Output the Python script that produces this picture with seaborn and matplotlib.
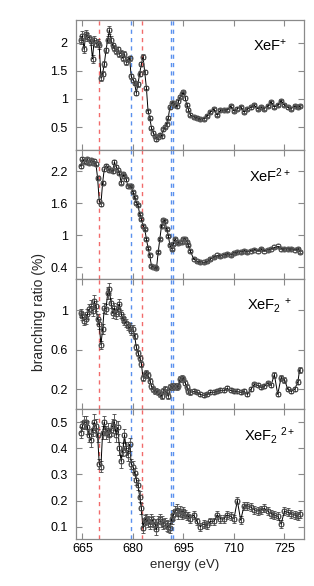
import matplotlib
matplotlib.use('Agg')
import matplotlib.pyplot as plt
import seaborn as sns
import pandas as pd
from matplotlib.ticker import FuncFormatter

# ---------------- data ----------------
energy = [664.5, 665.0, 665.5, 666.0, 666.5, 667.0, 667.5, 668.0, 668.5, 669.0,
          669.5, 670.0, 670.5, 671.0, 671.5, 672.0, 672.5, 673.0, 673.5, 674.0,
          674.5, 675.0, 675.5, 676.0, 676.5, 677.0, 677.5, 678.0, 678.5, 679.0,
          679.5, 680.0, 680.5, 681.0, 681.5, 682.0, 682.5, 683.0, 683.5, 684.0,
          684.5, 685.0, 685.5, 686.0, 686.5, 687.0, 687.5, 688.0, 688.5, 689.0,
          689.5, 690.0, 690.5, 691.0, 691.5, 692.0, 692.5, 693.0, 693.5, 694.0,
          694.5, 695.0, 695.5, 696.0, 696.5, 697.0,
          698, 699, 700, 701, 702, 703, 704, 705, 706, 707,
          708, 709, 710, 711, 712, 713, 714, 715, 716, 717,
          718, 719, 720, 721, 722, 723, 724, 725, 726, 727,
          728, 729, 729.5]

xef_plus = [2.04, 2.12, 1.88, 2.15, 2.10, 2.08, 2.02, 1.71, 2.05, 1.98,
            2.00, 1.95, 1.37, 1.45, 1.62, 1.86, 2.05, 2.22, 2.05, 1.95,
            1.90, 1.85, 1.88, 1.80, 1.82, 1.72, 1.80, 1.65, 1.70, 1.72,
            1.40, 1.34, 1.28, 1.11, 1.26, 1.45, 1.62, 1.75, 1.48, 1.20,
            0.78, 0.67, 0.49, 0.40, 0.34, 0.29, 0.32, 0.37, 0.34, 0.46,
            0.51, 0.55, 0.67, 0.86, 0.93, 0.93, 0.90, 0.87, 0.96, 1.04,
            1.08, 1.12, 1.02, 0.90, 0.81, 0.72,
            0.68, 0.67, 0.64, 0.65, 0.70, 0.77, 0.82, 0.72, 0.80, 0.80,
            0.81, 0.87, 0.79, 0.83, 0.86, 0.77, 0.82, 0.85, 0.89, 0.83,
            0.85, 0.83, 0.87, 0.95, 0.86, 0.89, 0.97, 0.89, 0.85, 0.83,
            0.87, 0.86, 0.87]

xef_2plus = [2.29, 2.43, 2.39, 2.37, 2.42, 2.36, 2.40, 2.36, 2.39, 2.34,
             2.08, 1.64, 1.58, 1.98, 2.24, 2.30, 2.26, 2.22, 2.23, 2.20,
             2.37, 2.28, 2.22, 2.17, 1.98, 2.14, 2.10, 2.05, 1.92, 1.93,
             1.92, 1.81, 1.71, 1.61, 1.56, 1.40, 1.30, 1.18, 1.12, 0.93,
             0.76, 0.62, 0.43, 0.40, 0.40, 0.38, 0.68, 0.93, 1.18, 1.28,
             1.27, 1.12, 0.99, 0.81, 0.74, 0.83, 0.93, 0.87, 0.86, 0.87,
             0.88, 0.92, 0.93, 0.88, 0.81, 0.71,
             0.56, 0.51, 0.50, 0.49, 0.51, 0.55, 0.59, 0.62, 0.61, 0.63,
             0.65, 0.63, 0.67, 0.68, 0.69, 0.71, 0.69, 0.71, 0.73, 0.71,
             0.74, 0.71, 0.72, 0.75, 0.77, 0.79, 0.75, 0.74, 0.74, 0.74,
             0.73, 0.75, 0.69]

xef2_plus = [0.97, 0.94, 0.89, 0.91, 0.96, 1.01, 1.04, 0.99, 1.09, 1.04,
             0.91, 0.86, 0.65, 0.81, 1.02, 1.01, 1.17, 1.21, 1.07, 0.97,
             1.02, 0.96, 1.01, 1.06, 0.96, 0.92, 0.89, 0.87, 0.84, 0.83,
             0.79, 0.81, 0.74, 0.63, 0.57, 0.52, 0.46, 0.32, 0.35, 0.37,
             0.35, 0.29, 0.23, 0.20, 0.18, 0.18, 0.17, 0.15, 0.13, 0.18,
             0.20, 0.17, 0.13, 0.22, 0.23, 0.22, 0.23, 0.22, 0.23, 0.31,
             0.32, 0.31, 0.27, 0.22, 0.18, 0.17,
             0.18, 0.17, 0.15, 0.14, 0.15, 0.17, 0.17, 0.18, 0.19, 0.19,
             0.21, 0.19, 0.18, 0.18, 0.17, 0.18, 0.15, 0.20, 0.25, 0.24,
             0.22, 0.23, 0.26, 0.24, 0.35, 0.15, 0.32, 0.30, 0.20, 0.18,
             0.20, 0.28, 0.40]

xef2_2plus = [0.46, 0.485, 0.50, 0.50, 0.48, 0.45, 0.43, 0.47, 0.50, 0.485,
              0.45, 0.34, 0.33, 0.46, 0.50, 0.46, 0.47, 0.45, 0.47, 0.485,
              0.50, 0.45, 0.48, 0.40, 0.35, 0.395, 0.45, 0.40, 0.375, 0.415,
              0.34, 0.33, 0.305, 0.28, 0.26, 0.215, 0.17, 0.095, 0.125, 0.13,
              0.12, 0.11, 0.13, 0.12, 0.11, 0.09, 0.12, 0.13, 0.12, 0.11,
              0.115, 0.105, 0.10, 0.095, 0.13, 0.145, 0.16, 0.165, 0.15, 0.16,
              0.145, 0.16, 0.15, 0.14, 0.14, 0.13,
              0.145, 0.12, 0.10, 0.11, 0.105, 0.12, 0.12, 0.145, 0.13, 0.13,
              0.145, 0.14, 0.13, 0.20, 0.125, 0.18, 0.18, 0.175, 0.165, 0.16,
              0.165, 0.17, 0.16, 0.15, 0.145, 0.14, 0.11, 0.16, 0.155, 0.15,
              0.145, 0.14, 0.15]

err_xef_plus = [0.07, 0.08, 0.06, 0.08, 0.07, 0.06, 0.07, 0.07, 0.06, 0.06,
                0.06, 0.06, 0.05, 0.05, 0.05, 0.05, 0.06, 0.07, 0.06, 0.05,
                0.05, 0.05, 0.05, 0.05, 0.05, 0.05, 0.05, 0.05, 0.05, 0.05,
                0.04, 0.04, 0.04, 0.04, 0.04, 0.04, 0.04, 0.04, 0.04, 0.03,
                0.03, 0.03, 0.03, 0.03, 0.03, 0.03, 0.03, 0.03, 0.03, 0.03,
                0.03, 0.03, 0.03, 0.03, 0.03, 0.03, 0.03, 0.03, 0.03, 0.03,
                0.03, 0.03, 0.03, 0.03, 0.03, 0.03,
                0.02, 0.02, 0.02, 0.02, 0.02, 0.02, 0.02, 0.02, 0.02, 0.02,
                0.02, 0.02, 0.02, 0.02, 0.02, 0.02, 0.02, 0.02, 0.02, 0.02,
                0.02, 0.02, 0.02, 0.02, 0.02, 0.02, 0.02, 0.02, 0.02, 0.02,
                0.02, 0.02, 0.02]

err_xef_2plus = [0.03, 0.03, 0.03, 0.03, 0.03, 0.03, 0.03, 0.03, 0.03, 0.03,
                 0.03, 0.03, 0.03, 0.03, 0.03, 0.03, 0.03, 0.03, 0.03, 0.03,
                 0.03, 0.03, 0.03, 0.03, 0.03, 0.03, 0.03, 0.03, 0.03, 0.03,
                 0.02, 0.02, 0.02, 0.02, 0.02, 0.02, 0.02, 0.02, 0.02, 0.02,
                 0.02, 0.02, 0.02, 0.02, 0.02, 0.02, 0.02, 0.02, 0.02, 0.02,
                 0.02, 0.02, 0.02, 0.02, 0.02, 0.02, 0.02, 0.02, 0.02, 0.02,
                 0.02, 0.02, 0.02, 0.02, 0.02, 0.02,
                 0.015, 0.015, 0.015, 0.015, 0.015, 0.015, 0.015, 0.015, 0.015, 0.015,
                 0.015, 0.015, 0.015, 0.015, 0.015, 0.015, 0.015, 0.015, 0.015, 0.015,
                 0.015, 0.015, 0.015, 0.015, 0.015, 0.015, 0.015, 0.015, 0.015, 0.015,
                 0.015, 0.015, 0.015]

err_xef2_plus = [0.04, 0.04, 0.04, 0.05, 0.05, 0.05, 0.06, 0.05, 0.06, 0.05,
                 0.05, 0.05, 0.04, 0.05, 0.05, 0.05, 0.06, 0.06, 0.05, 0.05,
                 0.05, 0.05, 0.05, 0.05, 0.04, 0.04, 0.04, 0.04, 0.04, 0.04,
                 0.04, 0.04, 0.03, 0.03, 0.03, 0.03, 0.03, 0.03, 0.03, 0.03,
                 0.03, 0.03, 0.03, 0.03, 0.03, 0.03, 0.03, 0.03, 0.03, 0.03,
                 0.03, 0.03, 0.03, 0.03, 0.03, 0.03, 0.03, 0.03, 0.03, 0.03,
                 0.03, 0.03, 0.03, 0.03, 0.03, 0.03,
                 0.02, 0.02, 0.02, 0.02, 0.02, 0.02, 0.02, 0.02, 0.02, 0.02,
                 0.02, 0.02, 0.02, 0.02, 0.02, 0.02, 0.02, 0.02, 0.02, 0.02,
                 0.02, 0.02, 0.02, 0.02, 0.03, 0.02, 0.03, 0.03, 0.02, 0.02,
                 0.02, 0.03, 0.03]

err_xef2_2plus = [0.02, 0.02, 0.025, 0.025, 0.025, 0.025, 0.025, 0.025, 0.03, 0.025,
                  0.025, 0.02, 0.02, 0.025, 0.025, 0.025, 0.025, 0.025, 0.025, 0.025,
                  0.03, 0.025, 0.025, 0.025, 0.025, 0.025, 0.025, 0.025, 0.025, 0.025,
                  0.02, 0.02, 0.02, 0.02, 0.02, 0.02, 0.02, 0.02, 0.02, 0.02,
                  0.02, 0.02, 0.02, 0.02, 0.02, 0.02, 0.02, 0.02, 0.02, 0.02,
                  0.02, 0.02, 0.02, 0.02, 0.02, 0.02, 0.02, 0.02, 0.02, 0.02,
                  0.015, 0.015, 0.015, 0.015, 0.015, 0.015,
                  0.015, 0.015, 0.015, 0.015, 0.015, 0.015, 0.015, 0.015, 0.015, 0.015,
                  0.015, 0.015, 0.015, 0.015, 0.015, 0.015, 0.015, 0.015, 0.015, 0.015,
                  0.015, 0.015, 0.015, 0.015, 0.015, 0.015, 0.015, 0.015, 0.015, 0.015,
                  0.015, 0.015, 0.015]

panel_labels = [r'XeF$^{+}$', r'XeF$^{2+}$', r'XeF$_{2}{}^{\ +}$', r'XeF$_{2}{}^{\ 2+}$']
panel_series = [xef_plus, xef_2plus, xef2_plus, xef2_2plus]
panel_errors = [err_xef_plus, err_xef_2plus, err_xef2_plus, err_xef2_2plus]
panel_yticks = [[0.5, 1, 1.5, 2], [0.4, 1, 1.6, 2.2], [0.2, 0.6, 1], [0.1, 0.2, 0.3, 0.4, 0.5]]
panel_ylims = [(0.10, 2.40), (0.17, 2.60), (0.0, 1.31), (0.053, 0.549)]
xticks = [665, 680, 695, 710, 725]
red_lines = [670.0, 682.8]
blue_lines = [679.3, 691.25, 692.05]

# ---------------- style ----------------
sns.set_style('ticks')
plt.rcParams['font.family'] = ['Liberation Sans', 'DejaVu Sans']
plt.rcParams['mathtext.fontset'] = 'custom'
plt.rcParams['mathtext.rm'] = 'Liberation Sans'
plt.rcParams['mathtext.it'] = 'Liberation Sans:italic'
plt.rcParams['mathtext.bf'] = 'Liberation Sans:bold'

W, H = 314, 586
fig = plt.figure(figsize=(W / 100, H / 100), dpi=100)

ax_left, ax_right, ax_top, panel_h = 76, 304, 20, 129.75
spine_col = '#8a8a8a'

for i in range(4):
    bottom = 1 - (ax_top + panel_h * (i + 1)) / H
    ax = fig.add_axes([ax_left / W, bottom, (ax_right - ax_left) / W, panel_h / H])
    df = pd.DataFrame({'energy': energy, 'ratio': panel_series[i], 'err': panel_errors[i]})

    for xv in red_lines:
        ax.axvline(xv, color='#f26b6b', lw=1.0, ls=(0, (3, 3)), zorder=1)
    for xv in blue_lines:
        ax.axvline(xv, color='#5a90ee', lw=1.0, ls=(0, (3, 3)), zorder=1)

    ax.errorbar(df['energy'], df['ratio'], yerr=df['err'], fmt='none',
                ecolor='#444444', elinewidth=0.6, capsize=1.6, capthick=0.6, zorder=2)
    sns.lineplot(data=df, x='energy', y='ratio', ax=ax, color='black', lw=0.7,
                 marker='s', markersize=3.3, markerfacecolor='none',
                 markeredgecolor='#333333', markeredgewidth=0.6, zorder=3)
    ax.plot(df['energy'], df['ratio'], ls='none', marker='o', markersize=4.0,
            markerfacecolor='none', markeredgecolor='#666666', markeredgewidth=0.45, zorder=3)

    ax.set_xlim(663.1, 730.8)
    ax.set_ylim(*panel_ylims[i])
    ax.set_xticks(xticks)
    ax.set_yticks(panel_yticks[i])
    ax.yaxis.set_major_formatter(FuncFormatter(lambda v, p: '%g' % v))
    ax.set_xlabel('')
    ax.set_ylabel('')
    ax.tick_params(axis='both', direction='in', length=4.5, width=0.8, color=spine_col,
                   top=True, right=True, labelsize=9, labelcolor='black')
    ax.tick_params(axis='y', pad=6)
    ax.tick_params(axis='x', pad=3)
    if i < 3:
        ax.tick_params(axis='x', labelbottom=False)
    for s in ax.spines.values():
        s.set_color(spine_col)
        s.set_linewidth(0.9)
        s.set_visible(True)

    ax.text(0.85, 0.80, panel_labels[i], transform=ax.transAxes, ha='center', va='center',
            fontsize=10.5, color='black')

fig.text(39 / W, 1 - 312 / H, 'branching ratio (%)', rotation=90, ha='center', va='center',
         fontsize=10)
fig.text(185 / W, 1 - 565 / H, 'energy (eV)', ha='center', va='center', fontsize=9.5)

fig.savefig('out.png', dpi=100)
